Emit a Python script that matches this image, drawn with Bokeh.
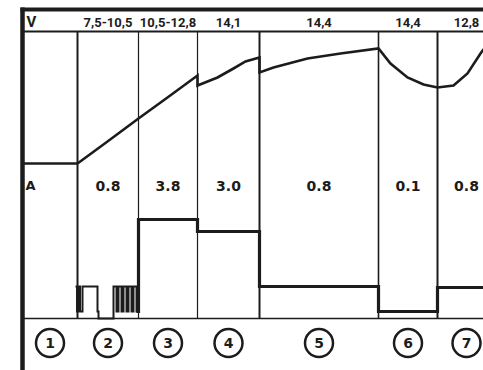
from bokeh.plotting import figure
from bokeh.models import Range1d
from bokeh.core.properties import value
from bokeh.embed import file_html
from bokeh.resources import INLINE

# ---------------- data ----------------
stage_names = ["1", "2", "3", "4", "5", "6", "7"]
stage_bounds = [0, 55, 116, 175, 237, 356, 415, 473]          # time units
volt_labels = ["7,5-10,5", "10,5-12,8", "14,1", "14,4", "14,4", "12,8"]   # stages 2..7
amp_labels = ["0.8", "3.8", "3.0", "0.8", "0.1", "0.8"]                   # stages 2..7

# charging voltage curve (time, relative level)
volt_t = [0, 55, 85, 116, 145, 175, 175, 195, 211, 223, 237, 237, 251, 285, 318, 356,
          368, 385, 401, 415, 431, 445, 458, 464]
volt_v = [207, 207, 229, 252, 273, 295, 285, 293, 302, 309, 313, 298, 303, 312, 317, 322,
          307, 293, 286, 283, 285, 297, 317, 325]

# charging current: pulses in stage 2, then one level per stage 3..7
pulse_t = [53, 54.5, 56, 57.5, 60, 75, 76, 91, 94, 96, 99, 101, 104, 106, 109, 111, 114]
pulse_a = [84, 59, 84, 59, 84, 59, 52, 84, 59, 84, 59, 84, 59, 84, 59, 84, 59]
stage_current = [151, 139, 84, 59, 83]                           # stages 3..7

# ---------------- layout constants ----------------
X0, X1 = -22, 461
Y0, Y1 = 0, 370
TOP = 361
HEAD = 339
BASE = 52
AROW = 185
HROW = 348.5
CROW = 27.5
INK = "#1c1c1c"

p = figure(width=483, height=370, x_range=Range1d(X0, X1), y_range=Range1d(Y0, Y1),
           output_backend="svg", toolbar_location=None,
           x_axis_type=None, y_axis_type=None, min_border=0)
p.grid.visible = False
p.outline_line_color = None
p.background_fill_color = "white"
p.border_fill_color = "white"

# frame
p.segment(x0=[0], y0=[TOP + 2], x1=[0], y1=[Y0], line_color=INK, line_width=4.5)
p.segment(x0=[-2], y0=[TOP], x1=[X1], y1=[TOP], line_color=INK, line_width=4)
p.segment(x0=[0], y0=[HEAD], x1=[X1], y1=[HEAD], line_color=INK, line_width=1.8)
p.segment(x0=[0], y0=[BASE], x1=[X1], y1=[BASE], line_color=INK, line_width=1.5)

# stage separators
inner = stage_bounds[1:-1]
widths = [2.0, 1.2, 1.2, 2.0, 1.6, 2.0]
p.segment(x0=inner, y0=[HEAD] * len(inner), x1=inner, y1=[BASE] * len(inner),
          line_color=INK, line_width=widths)

# voltage curve
p.line(volt_t, volt_v, line_color=INK, line_width=2.6, line_join="miter")

# current: pulse train (thin) and stage levels (thick)
p.step(pulse_t + [stage_bounds[2]], pulse_a + [pulse_a[-1]], mode="after",
       line_color=INK, line_width=2.0, line_join="miter")
cur_t = [pulse_t[-1]] + stage_bounds[2:7] + [stage_bounds[7]]
cur_a = [pulse_a[-1]] + stage_current + [stage_current[-1]]
p.step(cur_t, cur_a, mode="after", line_color=INK, line_width=3.2, line_join="miter")

mids = [(stage_bounds[i] + stage_bounds[i + 1]) / 2 for i in range(len(stage_names))]

# header labels
p.text(x=[4], y=[HROW], text=["V"], text_align="left", text_baseline="middle",
       text_font=value("Roboto"), text_font_style="bold",
       text_font_size="15px", text_color=INK)
p.text(x=mids[1:], y=[HROW] * 6, text=volt_labels, text_align="center",
       text_baseline="middle", text_font=value("Roboto"),
       text_font_style="bold", text_font_size="13px", text_color=INK)

# current labels
p.text(x=[3], y=[AROW], text=["A"], text_align="left", text_baseline="middle",
       text_font=value("DejaVu Sans"), text_font_style="bold",
       text_font_size="13px", text_color=INK)
p.text(x=mids[1:], y=[AROW] * 6, text=amp_labels, text_align="center",
       text_baseline="middle", text_font=value("DejaVu Sans"),
       text_font_style="bold", text_font_size="14px", text_color=INK)

# stage numbers in circles
p.scatter(x=mids, y=[CROW] * 7, marker="circle", size=28, fill_color="white",
          line_color=INK, line_width=2.5)
p.text(x=mids, y=[CROW] * 7, text=stage_names, text_align="center",
       text_baseline="middle", text_font=value("DejaVu Sans"),
       text_font_style="bold", text_font_size="14px", text_color=INK)

open("out.html", "w").write(file_html(p, INLINE))
